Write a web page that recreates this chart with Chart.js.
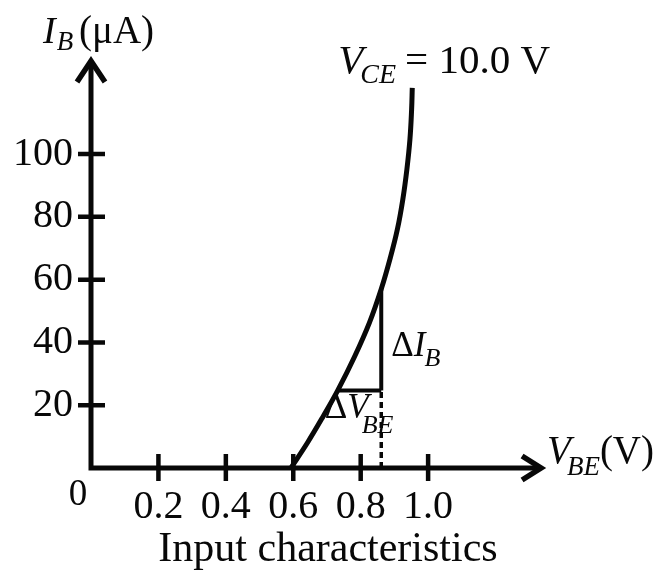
<!DOCTYPE html>
<html>
<head>
<meta charset="utf-8">
<title>Input characteristics</title>
<script src="https://cdn.jsdelivr.net/npm/chart.js@4.4.1/dist/chart.umd.min.js"></script>
<style>
  html, body { margin: 0; padding: 0; background: #fff; }
  #wrap { width: 656px; height: 571px; }
</style>
</head>
<body>
<div id="wrap"><canvas id="c" width="656" height="571"></canvas></div>
<script>
// Base-emitter voltage (V) and base current (µA) along the V_CE = 10.0 V curve
const curveVBE = [0.593, 0.643, 0.689, 0.732, 0.782, 0.826, 0.861, 0.887, 0.909, 0.925, 0.937, 0.946, 0.951, 0.953];
const curveIB  = [0, 8.2, 16.5, 24.7, 35.5, 46.3, 57.0, 66.6, 76.1, 85.6, 95.1, 104.6, 114.1, 121.1];

// Slope triangle: ΔV_BE between two voltages, ΔI_B between two currents
const deltaVBE = [0.732, 0.861];
const deltaIB  = [24.7, 57.0];

// Tick labels
const xTicks = [0.2, 0.4, 0.6, 0.8, 1.0];
const yTicks = [20, 40, 60, 80, 100];

// Axis arrow tips and the visible x range (room for the V_BE(V) label)
const xArrow = 1.341;
const yArrow = 130.6;
const xView = 1.676;

const INK = '#080808';
const SERIF = '"Liberation Serif", "Times New Roman", serif';

const curvePoints = curveVBE.map((v, i) => ({ x: v, y: curveIB[i] }));

// Draws the axes with arrowheads, crossing tick marks and the math labels
const inkPlugin = {
  id: 'ink',
  afterDraw(chart) {
    const { ctx, scales: { x, y } } = chart;
    const x0 = x.getPixelForValue(0);
    const y0 = y.getPixelForValue(0);
    const xTip = x.getPixelForValue(xArrow);
    const yTip = y.getPixelForValue(yArrow);
    ctx.save();
    ctx.strokeStyle = INK;
    ctx.fillStyle = INK;
    ctx.lineCap = 'butt';
    ctx.lineJoin = 'miter';

    // axes
    ctx.lineWidth = 5;
    ctx.beginPath();
    ctx.moveTo(x0, y0 + 2.5); ctx.lineTo(x0, yTip + 3);
    ctx.moveTo(x0 - 2.5, y0); ctx.lineTo(xTip - 3, y0);
    ctx.stroke();

    // tick marks crossing the axes
    ctx.lineWidth = 4.5;
    ctx.beginPath();
    xTicks.forEach(v => {
      const px = x.getPixelForValue(v);
      ctx.moveTo(px, y0 - 14); ctx.lineTo(px, y0 + 13);
    });
    yTicks.forEach(v => {
      const py = y.getPixelForValue(v);
      ctx.moveTo(x0 - 13, py); ctx.lineTo(x0 + 14, py);
    });
    ctx.stroke();

    // arrowheads
    ctx.lineWidth = 5.5;
    ctx.beginPath();
    ctx.moveTo(x0 - 14, yTip + 24); ctx.lineTo(x0, yTip + 3); ctx.lineTo(x0 + 14, yTip + 24);
    ctx.stroke();
    ctx.beginPath();
    ctx.moveTo(xTip - 21, y0 - 12); ctx.lineTo(xTip - 2, y0); ctx.lineTo(xTip - 21, y0 + 12);
    ctx.stroke();

    ctx.textBaseline = 'alphabetic';
    ctx.textAlign = 'left';
    const put = (txt, px, py, size, italic) => {
      ctx.font = (italic ? 'italic ' : '') + size + 'px ' + SERIF;
      ctx.fillText(txt, px, py);
      return px + ctx.measureText(txt).width;
    };

    // origin
    ctx.textAlign = 'center';
    ctx.font = '37px ' + SERIF;
    ctx.fillText('0', x0 - 13, y0 + 37);
    ctx.textAlign = 'left';

    // y-axis title: I_B (µA)
    let cx = put('I', x0 - 48, yTip - 15, 38, true);
    put('B', cx + 1, yTip - 8, 27, true);
    put('(\u03BCA)', x0 - 12, yTip - 15, 39, false);

    // x-axis title: V_BE(V)
    cx = put('V', xTip + 4, y0 - 5, 39, true);
    cx = put('BE', cx - 4, y0 + 7, 27, true);
    put('(V)', cx, y0 - 5, 39, false);

    // curve label: V_CE = 10.0 V
    const topX = x.getPixelForValue(curveVBE[curveVBE.length - 1]);
    const topY = y.getPixelForValue(curveIB[curveIB.length - 1]);
    cx = put('V', topX - 74, topY - 15, 41, true);
    cx = put('CE', cx - 3, topY - 5, 28, true);
    put('= 10.0 V', cx + 9, topY - 15, 41, false);

    // ΔI_B next to the vertical leg
    const legX = x.getPixelForValue(deltaVBE[1]);
    const midY = y.getPixelForValue((deltaIB[0] + deltaIB[1]) / 2);
    cx = put('\u0394', legX + 10, midY + 16, 35, false);
    cx = put('I', cx, midY + 16, 35, true);
    put('B', cx - 1, midY + 26, 26, true);

    // ΔV_BE below the horizontal leg
    const legL = x.getPixelForValue(deltaVBE[0]);
    const lowY = y.getPixelForValue(deltaIB[0]);
    cx = put('\u0394', legL - 13, lowY + 28, 35, false);
    cx = put('V', cx, lowY + 28, 35, true);
    put('BE', cx - 7, lowY + 43, 26, true);

    ctx.restore();
  }
};

new Chart(document.getElementById('c'), {
  type: 'scatter',
  data: {
    datasets: [
      {
        data: curvePoints,
        showLine: true,
        borderColor: INK,
        borderWidth: 5,
        pointRadius: 0,
        tension: 0.4,
        clip: false
      },
      {
        data: [{ x: deltaVBE[0], y: deltaIB[0] }, { x: deltaVBE[1], y: deltaIB[0] }],
        showLine: true,
        borderColor: INK,
        borderWidth: 4,
        pointRadius: 0,
        clip: false
      },
      {
        data: [{ x: deltaVBE[1], y: deltaIB[0] }, { x: deltaVBE[1], y: deltaIB[1] }],
        showLine: true,
        borderColor: INK,
        borderWidth: 4,
        pointRadius: 0,
        clip: false
      },
      {
        data: [{ x: deltaVBE[1], y: 0 }, { x: deltaVBE[1], y: deltaIB[0] }],
        showLine: true,
        borderColor: INK,
        borderWidth: 3.5,
        borderDash: [6, 4],
        pointRadius: 0,
        clip: false
      }
    ]
  },
  options: {
    responsive: false,
    animation: false,
    events: [],
    layout: { padding: { top: 58, right: 0, left: 0, bottom: 0 } },
    plugins: {
      legend: { display: false },
      tooltip: { enabled: false },
      title: {
        display: true,
        text: 'Input characteristics',
        position: 'bottom',
        color: INK,
        font: { family: SERIF, size: 42, weight: 'normal', lineHeight: 1 },
        padding: { top: 0, bottom: 0 }
      }
    },
    scales: {
      x: {
        type: 'linear',
        min: 0,
        max: xView,
        afterFit: s => { s.height = 61; },
        afterBuildTicks: s => { s.ticks = xTicks.map(v => ({ value: v })); },
        grid: { display: false, drawTicks: false, tickLength: 0 },
        border: { display: false },
        ticks: {
          color: INK,
          padding: 15,
          maxRotation: 0,
          autoSkip: false,
          font: { family: SERIF, size: 40 },
          callback: v => Number(v).toFixed(1)
        }
      },
      y: {
        type: 'linear',
        min: 0,
        max: yArrow,
        afterFit: s => { s.width = 91; },
        afterBuildTicks: s => { s.ticks = yTicks.map(v => ({ value: v })); },
        grid: { display: false, drawTicks: false, tickLength: 0 },
        border: { display: false },
        ticks: {
          color: INK,
          padding: 18,
          autoSkip: false,
          font: { family: SERIF, size: 40 },
          callback: v => String(v)
        }
      }
    }
  },
  plugins: [inkPlugin]
});
</script>
</body>
</html>
